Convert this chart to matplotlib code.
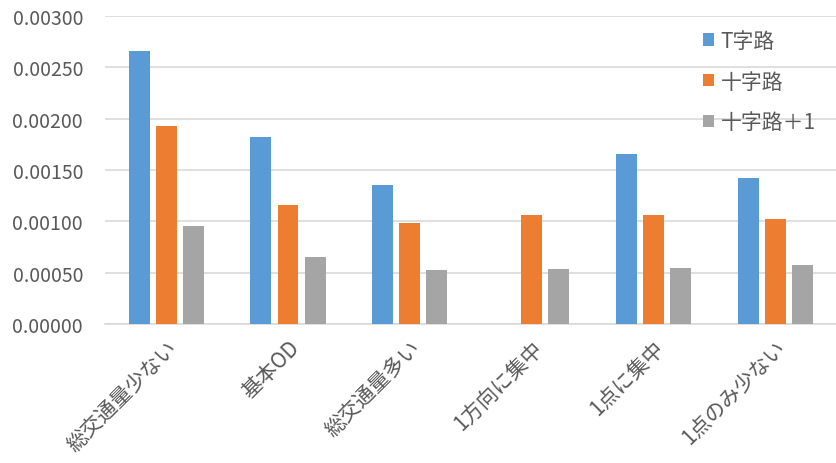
import matplotlib.pyplot as plt
import numpy as np

# data
categories = ['総交通量少ない', '基本OD', '総交通量多い', '1方向に集中', '1点に集中', '1点のみ少ない']
t_junction = [0.00266, 0.00182, 0.00135, np.nan, 0.00166, 0.00142]
crossroad = [0.00193, 0.00116, 0.00098, 0.00106, 0.00106, 0.00102]
crossroad_plus = [0.00095, 0.00065, 0.00052, 0.00053, 0.00054, 0.00057]
series_names = ['T字路', '十字路', '十字路＋1']
colors = ['#5B9BD5', '#ED7D31', '#A5A5A5']
yticks = [0.0, 0.0005, 0.0010, 0.0015, 0.0020, 0.0025, 0.0030]

plt.rcParams['font.family'] = ['Noto Sans CJK JP', 'DejaVu Sans']
text_color = '#595959'

fig = plt.figure(figsize=(8.36, 4.64), dpi=100)
ax = fig.add_axes([0.126, 0.3, 0.874, 0.663])

x = np.arange(len(categories))
width = 0.172
offsets = [-0.222, 0.0, 0.222]
for vals, name, col, off in zip([t_junction, crossroad, crossroad_plus], series_names, colors, offsets):
    ax.bar(x + off, vals, width, color=col, label=name, zorder=3)

ax.set_xlim(-0.5, len(categories) - 0.5)
ax.set_ylim(0, 0.003)
ax.set_yticks(yticks)
ax.set_yticklabels(['%.5f' % v for v in yticks], fontsize=14, color=text_color)
ax.set_xticks(x)
ax.set_xticklabels(categories, rotation=45, ha='right', rotation_mode='anchor',
                   fontsize=15, color=text_color)
ax.tick_params(axis='both', length=0)
ax.tick_params(axis='x', pad=9)
ax.tick_params(axis='y', pad=16)

ax.yaxis.grid(True, color='#D9D9D9', linewidth=1.2, zorder=0)
for s in ['top', 'right', 'left']:
    ax.spines[s].set_visible(False)
ax.spines['bottom'].set_color('#D9D9D9')
ax.spines['bottom'].set_linewidth(1.2)

leg = ax.legend(loc='upper right', bbox_to_anchor=(0.995, 1.01), frameon=False,
                fontsize=15, handlelength=0.55, handleheight=0.55, handletextpad=0.3,
                labelspacing=0.9, borderaxespad=0.4)
for t in leg.get_texts():
    t.set_color(text_color)

fig.savefig('out.png', dpi=100)
